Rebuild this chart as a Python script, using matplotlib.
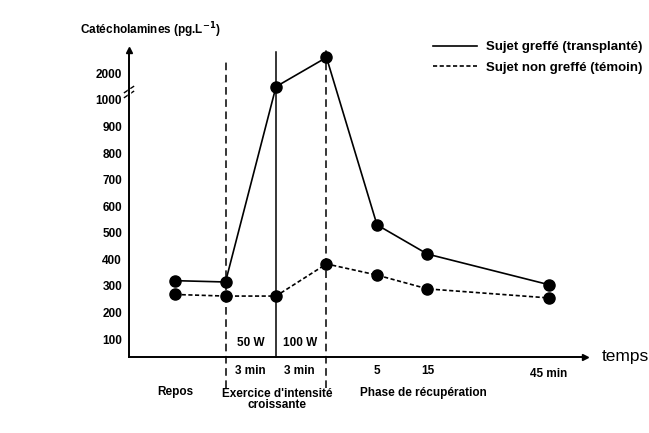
import numpy as np
import matplotlib
matplotlib.use("Agg")
import matplotlib.pyplot as plt
from matplotlib.lines import Line2D

plt.rcParams['font.family'] = ['Liberation Sans Narrow', 'Liberation Sans', 'DejaVu Sans']

# positions along the (non linear) time axis
x_pos = [0, 1, 2, 3, 4, 5, 7.4]
greffe = [320, 315, 1500, 2600, 530, 420, 305]
temoin = [268, 262, 262, 383, 341, 289, 255]

y_ticks = [100, 200, 300, 400, 500, 600, 700, 800, 900, 1000, 2000]
y_labels = [str(v) for v in y_ticks]


# broken axis: linear to 1000, then 1000 per unit
def fwd(v):
    v = np.asarray(v, dtype=float)
    return np.where(v <= 1000, v / 100.0, 10 + (v - 1000) / 1000.0)


def inv(u):
    u = np.asarray(u, dtype=float)
    return np.where(u <= 10, u * 100.0, 1000 + (u - 10) * 1000.0)


fig = plt.figure(figsize=(6.49, 4.33), dpi=100)
ax = fig.add_axes([129 / 649, 76 / 433, 456 / 649, 307 / 433])
ax.set_yscale('function', functions=(fwd, inv))
ax.set_xlim(-0.911, 8.119)
ax.set_ylim(32.7, 2880)

for s in ['top', 'right']:
    ax.spines[s].set_visible(False)
ax.spines['left'].set_linewidth(1.4)
ax.spines['bottom'].set_linewidth(1.4)
ax.set_xticks([])
ax.set_yticks(y_ticks)
ax.set_yticklabels(y_labels, fontsize=8.5, fontweight='bold')
ax.tick_params(axis='y', length=0, pad=5)

# arrows on axes
ax.plot(1, 0, '>k', ms=4, transform=ax.transAxes, clip_on=False)
ax.plot(0, 1, '^k', ms=4, transform=ax.transAxes, clip_on=False)

# break marks on the y axis
yb = ax.transAxes.inverted().transform(ax.transData.transform((0, 1300)))[1]
for dy in (-0.008, 0.008):
    ax.plot([-0.01, 0.01], [yb + dy - 0.01, yb + dy + 0.01], color='k', lw=1.0,
            transform=ax.transAxes, clip_on=False)
ax.plot([0, 0], [yb - 0.006, yb + 0.006], color='white', lw=2.5,
        transform=ax.transAxes, clip_on=False)

# phase separators
ax.plot([x_pos[1], x_pos[1]], [-85, 2550], color='k', lw=1.1, ls=(0, (5, 3)), clip_on=False)
ax.plot([x_pos[2], x_pos[2]], [32.7, 2800], color='k', lw=1.1, clip_on=False)
ax.plot([x_pos[3], x_pos[3]], [-85, 3000], color='k', lw=1.1, ls=(0, (5, 3)), clip_on=False)

ax.plot(x_pos, greffe, color='k', lw=1.2, marker='o', ms=8, clip_on=False)
ax.plot(x_pos, temoin, color='k', lw=1.2, ls=(0, (2.5, 1.5)), marker='o', ms=8,
        clip_on=False)

fs = 8.5
bold = dict(fontsize=fs, fontweight='bold', ha='center', va='center')
ax.text(1.5, 85, '50 W', **bold)
ax.text(2.47, 85, '100 W', **bold)
ax.text(1.5, -20, '3 min', **bold)
ax.text(2.47, -20, '3 min', **bold)
ax.text(0, -100, 'Repos', **bold)
ax.text(2.02, -128, "Exercice d'intensité\ncroissante", linespacing=0.95, **bold)
ax.text(4, -20, '5', **bold)
ax.text(5, -20, '15', **bold)
ax.text(7.4, -30, '45 min', **bold)
ax.text(4.92, -102, 'Phase de récupération', **bold)
ax.text(8.45, 32.7, 'temps', fontsize=12.5, ha='left', va='center',
        family=['Liberation Sans', 'DejaVu Sans'])

fig.text(80 / 649, 1 - 30 / 433, 'Catécholamines (pg.L$^{\\mathbf{-1}}$)', fontsize=fs,
         fontweight='bold', ha='left', va='center')

handles = [Line2D([], [], color='k', lw=1.2),
           Line2D([], [], color='k', lw=1.2, ls=(0, (2.5, 1.5)))]
fig.legend(handles, ['Sujet greffé (transplanté)', 'Sujet non greffé (témoin)'],
           loc='upper left', bbox_to_anchor=(433 / 649, 1 - 41 / 433), frameon=False,
           prop=dict(size=9.5, weight='bold'), handlelength=3.3, handletextpad=0.7,
           labelspacing=0.65, borderpad=0, borderaxespad=0)

fig.savefig('out.png', dpi=100)
